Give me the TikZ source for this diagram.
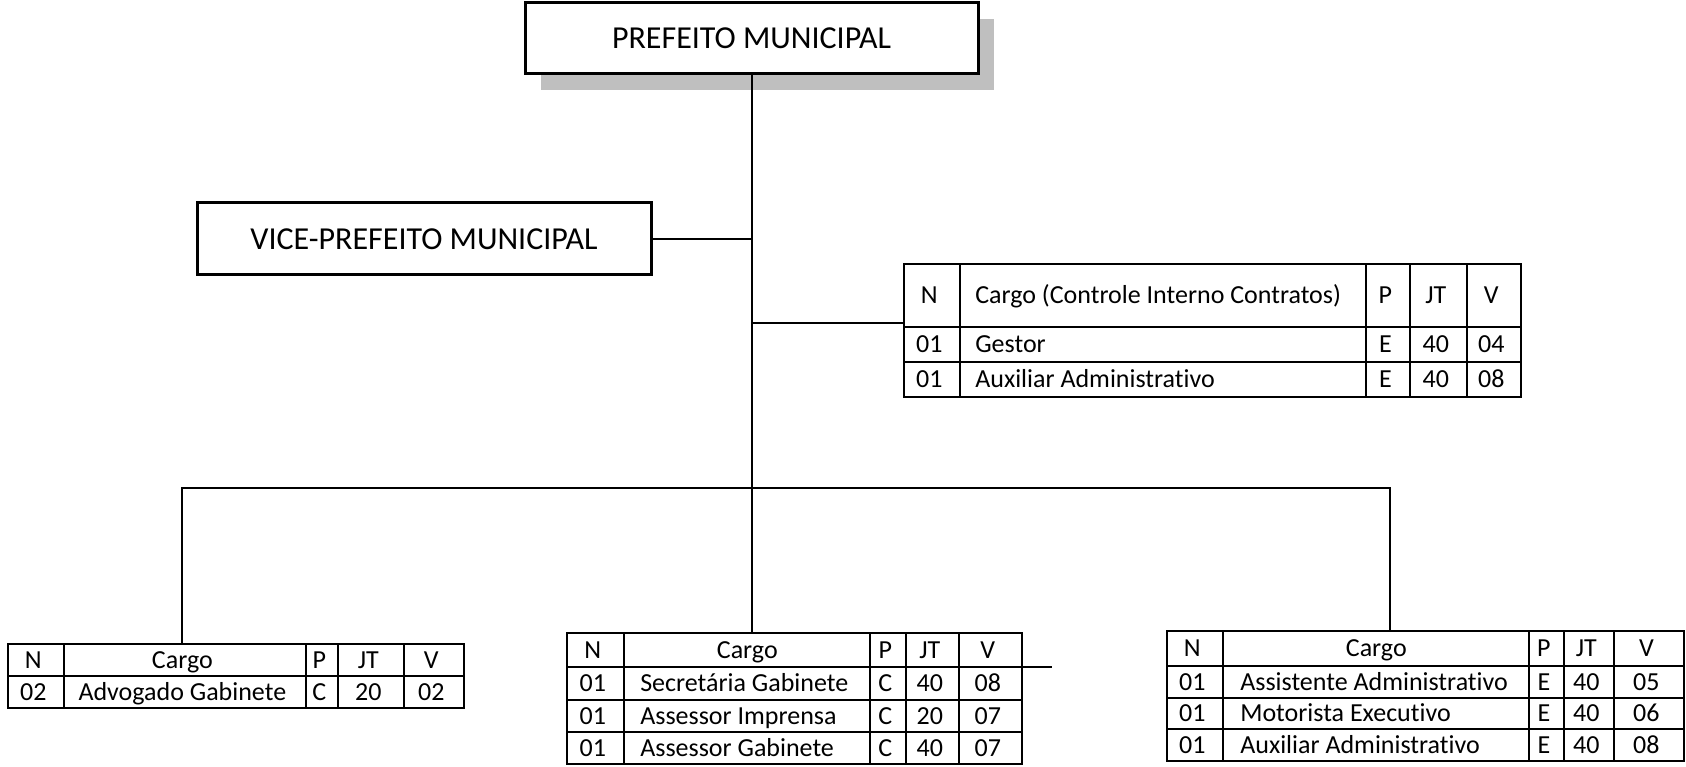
\documentclass[tikz,border=0pt]{standalone}
\usepackage{fontspec}
\setmainfont{Carlito}[Ligatures={NoCommon}]
\usetikzlibrary{matrix,shadows,calc}
\definecolor{shadowgray}{RGB}{191,191,191}
\def\tabrule{2.2pt}
\tikzset{
  titlebox/.style={draw, line width=3pt, fill=white, font=\fontsize{32}{38}\selectfont},
  link/.style={line width=2pt},
  tabcols/.style n args={5}{
    column 1/.style={nodes={minimum width=#1pt}},
    column 2/.style={nodes={minimum width=#2pt}},
    column 3/.style={nodes={minimum width=#3pt}},
    column 4/.style={nodes={minimum width=#4pt}},
    column 5/.style={nodes={minimum width=#5pt}}},
  cargotab/.style={matrix of nodes, inner sep=0pt, anchor=north west,
    column sep=-\tabrule, row sep=-\tabrule,
    nodes={draw, line width=\tabrule, inner sep=0pt, anchor=center, align=center,
      minimum height=32pt, text height=18pt, text depth=2pt,
      font=\fontsize{26}{31}\selectfont}},
  leftcargo/.style={column 2/.append style={nodes={text width=#1pt, align=flush left}}},
}
\begin{document}
\begin{tikzpicture}[x=1pt,y=-1pt]
    \useasboundingbox (0,0) rectangle (1686,767);
    \node[titlebox, minimum width=453pt, minimum height=71pt,
      drop shadow={shadow xshift=16pt, shadow yshift=-16pt, fill=shadowgray, opacity=1}]
      (prefeito) at (751.5,38.5) {PREFEITO MUNICIPAL};
    \node[titlebox, minimum width=454pt, minimum height=72pt] (vice) at (424,239) {VICE-PREFEITO MUNICIPAL};

    \matrix[cargotab, tabcols={56}{406}{44}{57}{54}, leftcargo=376,
      nodes={minimum height=35pt}, row 1/.style={nodes={minimum height=63pt}}] (tabctrl) at (903,263) {
      N  & Cargo (Controle Interno Contratos) & P & JT & V  \\
      01 & Gestor                             & E & 40 & 04 \\
      01 & Auxiliar Administrativo            & E & 40 & 08 \\
    };
    \matrix[cargotab, tabcols={56}{242}{32}{66}{60}] (tabadv) at (7,643) {
      N  & Cargo             & P & JT & V  \\
      02 & Advogado Gabinete & C & 20 & 02 \\
    };
    \matrix[cargotab, tabcols={57}{246}{36}{53}{63}, leftcargo=214,
      row 1 column 2/.style={nodes={align=center}},
      row 1/.style={nodes={minimum height=34pt}}, row 2/.style={nodes={minimum height=33pt}}] (tabgab) at (566,632) {
      N  & Cargo               & P & JT & V  \\
      01 & Secretária Gabinete & C & 40 & 08 \\
      01 & Assessor Imprensa   & C & 20 & 07 \\
      01 & Assessor Gabinete   & C & 40 & 07 \\
    };
    \matrix[cargotab, tabcols={56}{306}{35}{50}{70}, leftcargo=272,
      row 1 column 2/.style={nodes={align=center}},
      row 1/.style={nodes={minimum height=35pt}}, row 3/.style={nodes={minimum height=31pt}}] (tabadm) at (1166,630) {
      N  & Cargo                     & P & JT & V  \\
      01 & Assistente Administrativo & E & 40 & 05 \\
      01 & Motorista Executivo       & E & 40 & 06 \\
      01 & Auxiliar Administrativo   & E & 40 & 08 \\
    };

    \coordinate (bl) at (182,488);
    \coordinate (br) at (1390,488);
    \coordinate (stub) at ([xshift=61pt,yshift=1pt]tabgab-1-5.south);
    \draw[link] (prefeito.south) -- (prefeito.south |- tabgab.north);
    \draw[link] (vice.east) -- (vice.east -| prefeito.south);
    \draw[link] ([yshift=7.5pt]tabctrl.west) -- ([yshift=7.5pt]tabctrl.west -| prefeito.south);
    \draw[link] (bl |- tabadv.north) -- (bl) -- (br) -- (br |- tabadm.north);
    \draw[link] ([xshift=8pt,yshift=1pt]tabgab-1-5.south) -- (stub);
\end{tikzpicture}
\end{document}
